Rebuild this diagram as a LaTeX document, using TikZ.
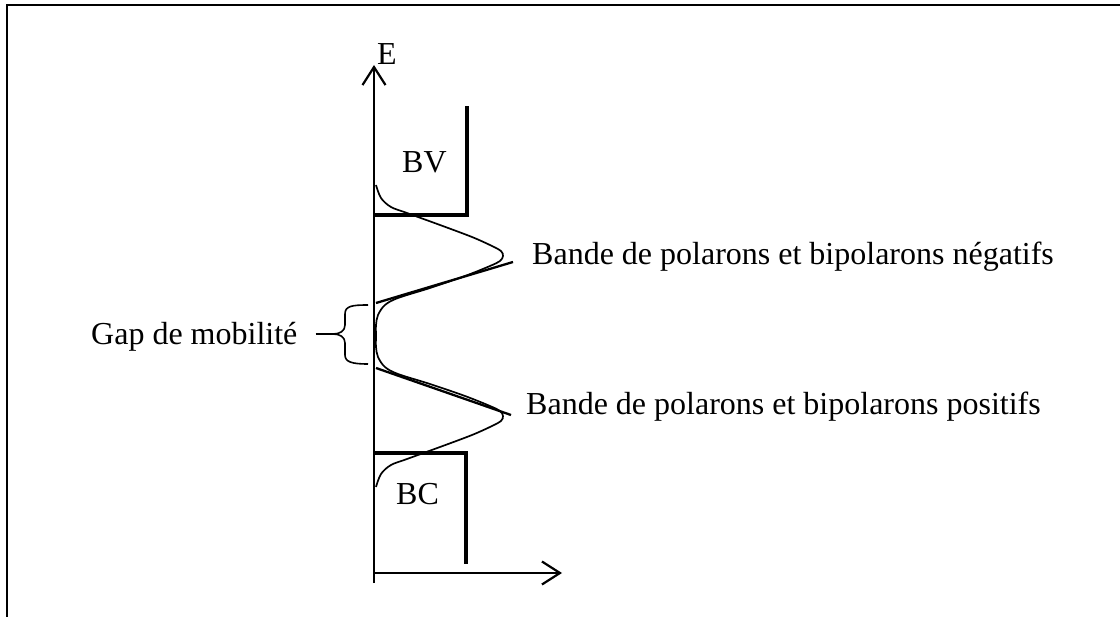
\documentclass[tikz,border=0pt]{standalone}
\usepackage{fontspec}
\setmainfont{Liberation Serif}
\usetikzlibrary{arrows.meta}

\begin{document}
\begin{tikzpicture}[x=1pt, y=-1pt,
    frameline/.style={line width=2.5pt},
    axisline/.style={line width=2.6pt},
    bandbox/.style={line width=3.4pt},
    dos/.style={line width=1.7pt},
    tangent/.style={line width=2.3pt},
    bracket/.style={line width=1.6pt},
    lbl/.style={font=\fontsize{32}{38}\selectfont, inner sep=0pt, anchor=base west},
    axarr/.style={-{Straight Barb[length=18pt, width=23pt, line width=2.2pt]}}
]
    \useasboundingbox (0,0) rectangle (1120,617);

    % Frame (left and top edges only)
    \draw[frameline] (7,617) -- (7,5) -- (1120,5);

    % Axes
    \coordinate (Ebot) at (374,583);
    \coordinate (Etop) at (374,65);
    \coordinate (O)    at (374,573);
    \coordinate (Dend) at (562,573);
    \draw[axisline, axarr] (Ebot) -- (Etop);
    \draw[axisline, axarr] (O) -- (Dend);
    \node[lbl] (elbl) at (377,65) {E};

    % Valence and conduction bands
    \draw[bandbox] (374,215) -- (467,215) -- (467,106);
    \draw[bandbox] (374,453) -- (466,453) -- (466,564);
    \node[lbl] (bv) at (402,173) {BV};
    \node[lbl] (bc) at (396,505) {BC};

    % Density of states
    \draw[dos] plot[smooth, tension=0.55] coordinates {
        (376,185) (381,198) (391,207) (407,213) (440,225) (472,237) (492,246)
        (501,251) (503,256) (500,261) (490,266) (465,276) (430,288) (398,298)
        (385,305) (378,315) (376,325) (376,336) (376,347) (378,357) (385,367)
        (398,374) (430,384) (465,396) (490,406) (500,411) (503,416) (501,421)
        (492,426) (472,435) (440,447) (407,459) (391,465) (381,474) (376,487)};

    % Polaron bands
    \draw[tangent] (376,303) -- (513,262);
    \draw[tangent] (376,368) -- (511,415);
    \node[lbl] (neg) at (532,265) {Bande de polarons et bipolarons négatifs};
    \node[lbl] (pos) at (526,415) {Bande de polarons et bipolarons positifs};

    % Mobility gap
    \coordinate (gaptip) at (333,334);
    \draw[bracket] (368,305) .. controls (352,305) and (345,306) .. (345,314)
        -- (345,325) .. controls (345,331) and (340,334) .. (gaptip)
        .. controls (340,334) and (345,337) .. (345,343)
        -- (345,355) .. controls (345,362) and (352,364) .. (368,364);
    \node[lbl] (gap) at (91,345) {Gap de mobilité};
    \draw[bracket] ([xshift=18pt]gap.east |- gaptip) -- (gaptip);
\end{tikzpicture}
\end{document}
